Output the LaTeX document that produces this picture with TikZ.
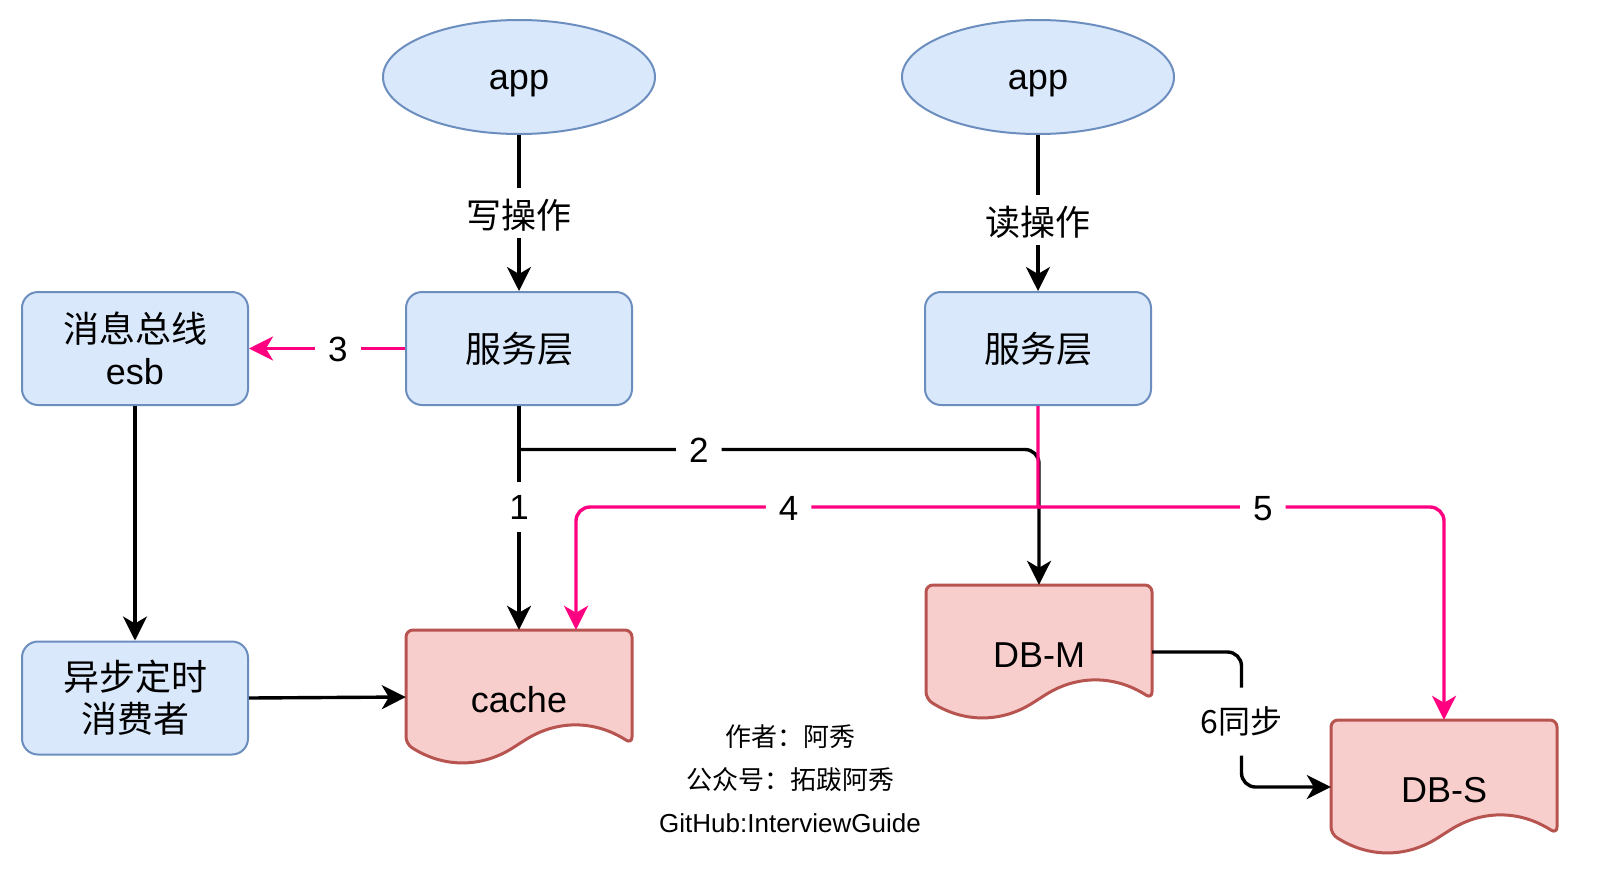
\documentclass[tikz,border=0pt]{standalone}
\usepackage{fontspec}
\setmainfont{Liberation Sans}
\newfontfamily\cjk{Noto Sans CJK SC}
\usetikzlibrary{arrows.meta,shapes.geometric,calc}
\definecolor{bfill}{HTML}{DAE8FC}
\definecolor{bline}{HTML}{6C8EBF}
\definecolor{rfill}{HTML}{F8CECC}
\definecolor{rline}{HTML}{B85450}
\definecolor{pinkline}{HTML}{FF0080}
\tikzset{
  bluebox/.style={draw=bline, fill=bfill, line width=2pt, rounded corners=16pt,
    minimum width=226pt, minimum height=113pt, align=center, inner sep=0pt,
    font=\cjk\fontsize{36}{42}\selectfont},
  appnode/.style={ellipse, draw=bline, fill=bfill, line width=2pt,
    minimum width=272pt, minimum height=114pt, inner sep=0pt,
    text height=30pt, text depth=6pt,
    font=\fontsize{36}{42}\selectfont},
  docpath/.style={draw=rline, fill=rfill, line width=3pt, rounded corners=7pt},
  docnode/.style={draw=none, rectangle, inner sep=0pt, minimum width=226pt,
    minimum height=134pt, text height=30pt, text depth=0pt,
    font=\fontsize{36}{42}\selectfont},
  conn/.style={line width=3.4pt, draw=black, -{Stealth[length=24pt,width=24pt,inset=7pt]}},
  pconn/.style={conn, draw=pinkline},
  lbl/.style={fill=white, inner xsep=13pt, inner ysep=8pt, text height=30pt, text depth=4pt,
    font=\fontsize{35}{42}\selectfont},
  clbl/.style={fill=white, inner xsep=6pt, inner ysep=8pt, text height=32pt, text depth=2pt,
    font=\cjk\fontsize{35}{42}\selectfont},
  slbl/.style={fill=white, inner xsep=4pt, inner ysep=0pt, minimum height=68pt,
    font=\cjk\fontsize{32}{38}\selectfont},
  footer/.style={align=center, inner sep=0pt, font=\cjk\fontsize{26}{43}\selectfont}
}
% name, left, top, width, height, text
\newcommand\docshape[6]{%
  \path[docpath] (#2,#3) -- ({#2+#4},#3) -- ({#2+#4},{#3+0.85*#5})
    .. controls ({#2+#4*5/6},{#3+0.67*#5}) and ({#2+#4*2/3},{#3+0.67*#5}) .. ({#2+#4/2},{#3+0.85*#5})
    .. controls ({#2+#4/3},{#3+1.03*#5}) and ({#2+#4/6},{#3+1.03*#5}) .. (#2,{#3+0.85*#5}) -- cycle;
  \node[docnode, minimum width=#4pt, minimum height=#5pt] (#1) at ({#2+#4/2},{#3+#5/2}) {#6};
}
\begin{document}
\begin{tikzpicture}[x=1pt,y=-1pt]
\useasboundingbox[fill=white] (0,0) rectangle (1602,878);

\node[appnode] (app1) at (519,77) {app};
\node[appnode] (app2) at (1038,77) {app};
\node[bluebox] (svc1) at (519,348.5) {服务层};
\node[bluebox] (svc2) at (1038,348.5) {服务层};
\node[bluebox] (esb) at (135,348.5) {消息总线\\{\rmfamily esb}};
\node[bluebox] (cons) at (135,698) {异步定时\\消费者};

\docshape{cache}{406}{630}{226}{134}{cache}
\docshape{dbm}{926}{585}{226}{134}{DB-M}
\docshape{dbs}{1331}{720}{226}{134}{DB-S}

\coordinate (j2) at (519,449.5);
\coordinate (j45) at (1038,507);
\coordinate (m6) at ($(dbm.east)!0.5!(dbs.west)$);

% write path
\draw[conn] (app1) -- node[clbl, pos=0.5] {写操作} (svc1);
\draw[conn] (app2) -- node[clbl, pos=0.545] {读操作} (svc2);
\draw[pconn] (svc1.west) -- node[lbl, pos=0.43] {3} (esb.east);
\draw[conn] (esb.south) -- (cons.north);
\draw[conn] (cons.east) -- (cache.west);
\draw[conn] (svc1.south) -- node[lbl, pos=0.45] {1} (cache.north);
\draw[conn] (svc1.south) -- (j2) [rounded corners=14pt] -| node[lbl, pos=0.173] {2} (dbm.north);

% read path
\draw[pconn] (svc2.south) -- (j45) [rounded corners=14pt] -| node[lbl, pos=0.27] {4} ([xshift=57pt]cache.north);
\draw[pconn] (j45) [rounded corners=14pt] -| node[lbl, pos=0.277] {5} (dbs.north);

% sync
\draw[conn, rounded corners=14pt] (dbm.east) -| (m6) node[slbl, yshift=-2pt] {6同步} |- (dbs.west);

\node[footer] (credit) at (790,779) {作者：阿秀\\公众号：拓跋阿秀\\{\rmfamily GitHub:InterviewGuide}};
\end{tikzpicture}
\end{document}
